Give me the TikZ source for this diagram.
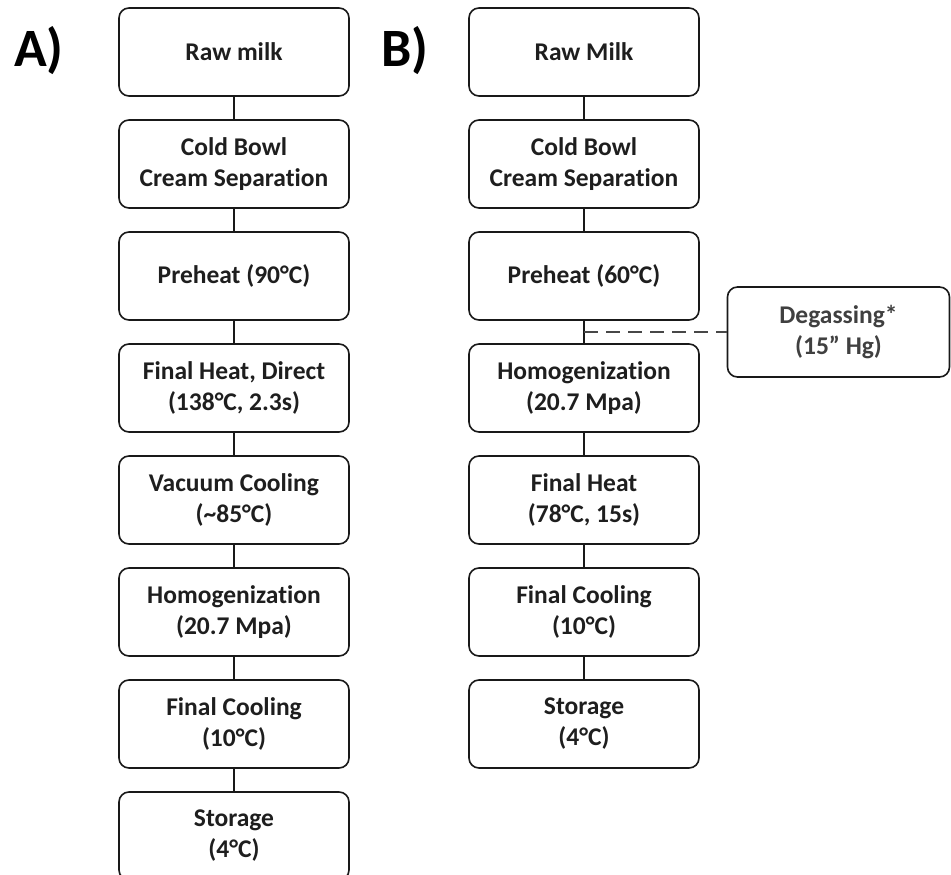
\documentclass[tikz,border=0pt]{standalone}
\usepackage{fontspec}
\setmainfont{Carlito}[Ligatures={NoCommon}]
\usepackage{tikz}
\usetikzlibrary{positioning, calc}
\definecolor{flowtext}{RGB}{30, 30, 30}
\definecolor{flowline}{RGB}{25, 25, 25}
\tikzset{
    stepbox/.style={rectangle, draw=flowline, line width=1.6pt, rounded corners=10pt, minimum width=230pt, minimum height=88pt, align=center, text=flowtext, font=\fontsize{25.5}{31}\selectfont\bfseries},
    link/.style={draw=flowline, line width=1.2pt},
    dashlink/.style={draw=flowline!80, line width=1.2pt, dash pattern=on 14pt off 8pt},
    panel/.style={text=black, font=\fontsize{54}{62}\selectfont\bfseries}
}

\begin{document}
\begin{tikzpicture}[node distance=22.4pt]
    \useasboundingbox (0pt,0pt) rectangle (951pt,-875pt);

    \node[panel] (labA) at (39pt,-51pt) {A)};
    \node[panel] (labB) at (405pt,-51pt) {B)};

    % process A
    \node[stepbox] (rawA) at (234pt,-52pt) {Raw milk};
    \node[stepbox, below=of rawA] (sepA) {Cold Bowl\\Cream Separation};
    \node[stepbox, below=of sepA] (preA) {Preheat (90°C)};
    \node[stepbox, below=of preA] (heatA) {Final Heat, Direct\\(138°C, 2.3s)};
    \node[stepbox, below=of heatA] (vacA) {Vacuum Cooling\\(\textasciitilde 85°C)};
    \node[stepbox, below=of vacA] (homA) {Homogenization\\(20.7 Mpa)};
    \node[stepbox, below=of homA] (coolA) {Final Cooling\\(10°C)};
    \node[stepbox, below=of coolA] (storA) {Storage\\(4°C)};

    \draw[link] (rawA) -- (sepA);
    \draw[link] (sepA) -- (preA);
    \draw[link] (preA) -- (heatA);
    \draw[link] (heatA) -- (vacA);
    \draw[link] (vacA) -- (homA);
    \draw[link] (homA) -- (coolA);
    \draw[link] (coolA) -- (storA);

    % process B
    \node[stepbox] (rawB) at (584pt,-52pt) {Raw Milk};
    \node[stepbox, below=of rawB] (sepB) {Cold Bowl\\Cream Separation};
    \node[stepbox, below=of sepB] (preB) {Preheat (60°C)};
    \node[stepbox, below=of preB] (homB) {Homogenization\\(20.7 Mpa)};
    \node[stepbox, below=of homB] (heatB) {Final Heat\\(78°C, 15s)};
    \node[stepbox, below=of heatB] (coolB) {Final Cooling\\(10°C)};
    \node[stepbox, below=of coolB] (storB) {Storage\\(4°C)};

    \node[stepbox, minimum width=222pt, minimum height=90pt, text=flowtext!85] (degas) at (838.5pt,-332pt) {Degassing*\\(15” Hg)};

    \draw[link] (rawB) -- (sepB);
    \draw[link] (sepB) -- (preB);
    \draw[link] (preB) -- (homB);
    \draw[link] (homB) -- (heatB);
    \draw[link] (heatB) -- (coolB);
    \draw[link] (coolB) -- (storB);

    \coordinate (tapB) at (preB.south |- degas.west);
    \draw[dashlink] (tapB) -- (degas.west);

\end{tikzpicture}
\end{document}
